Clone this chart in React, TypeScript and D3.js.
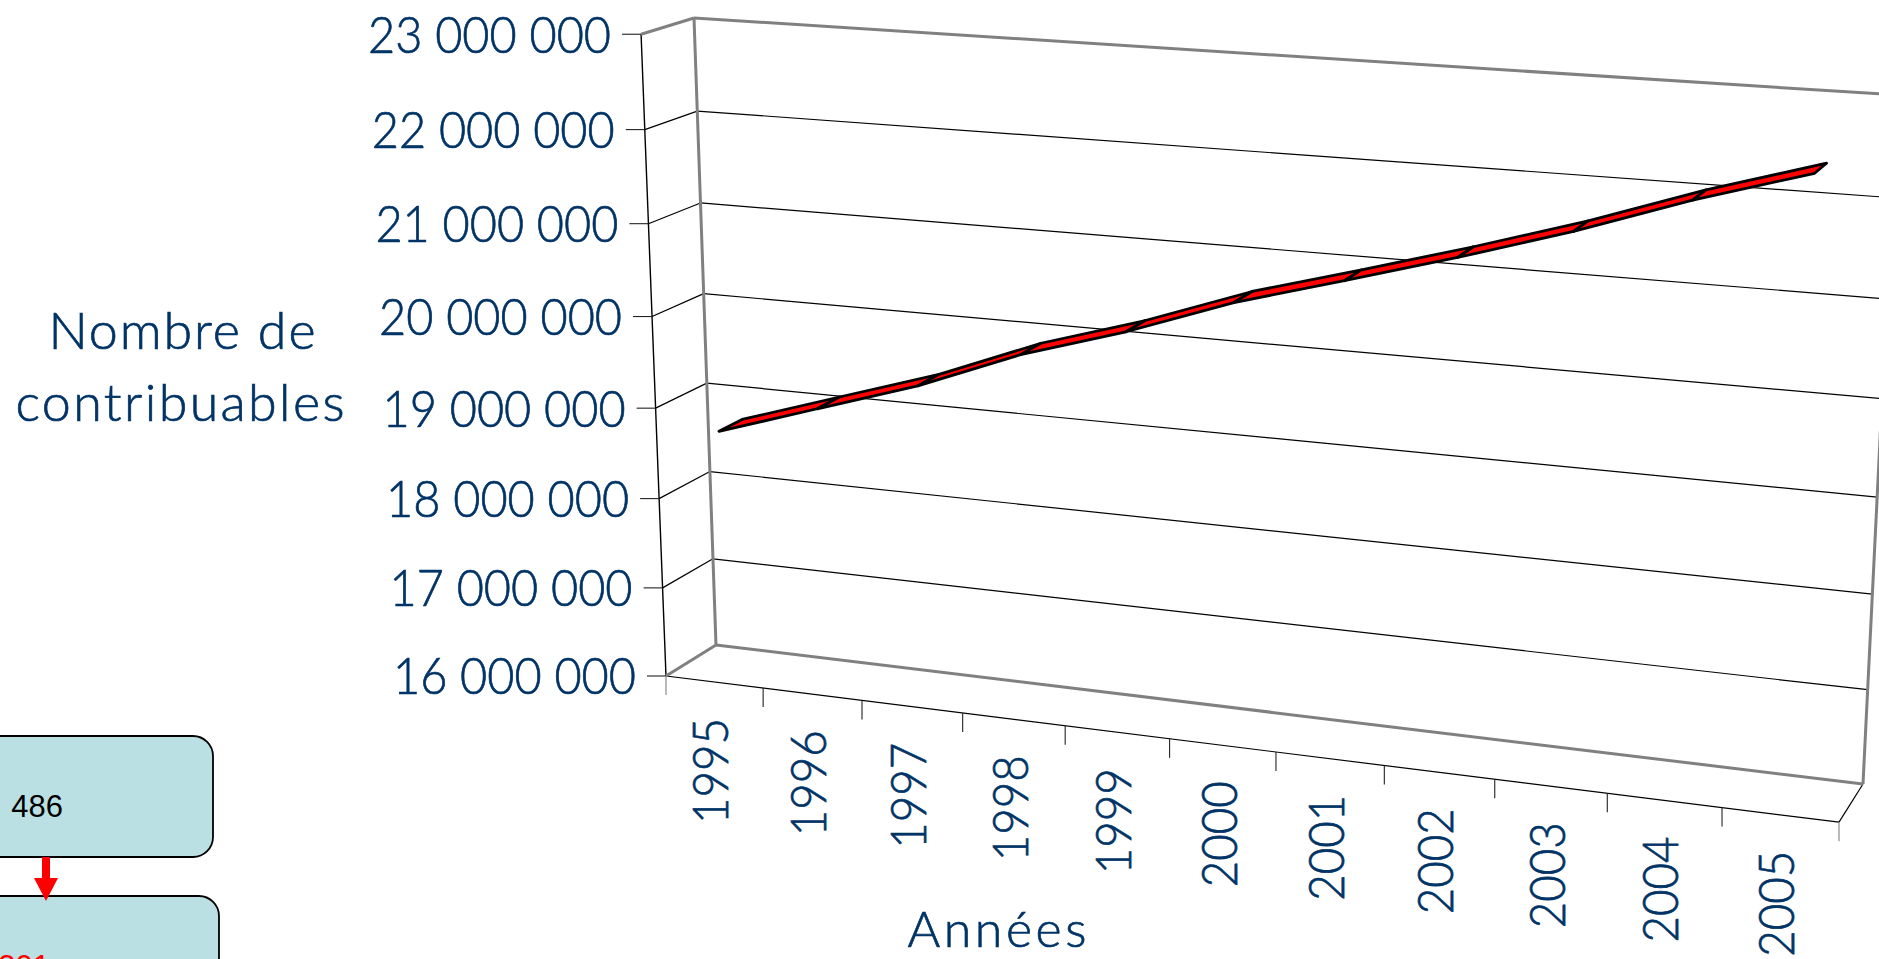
import React from 'react';
import * as d3 from 'd3';

const years = ['1995','1996','1997','1998','1999','2000','2001','2002','2003','2004','2005'];
const tickValues = [16e6,17e6,18e6,19e6,20e6,21e6,22e6,23e6];
const contribuables = [18.725e6,19.082e6,19.436e6,19.874e6,20.216e6,20.618e6,20.937e6,21.265e6,21.616e6,22.01e6,22.355e6];

type V3 = [number,number,number];
const BL:V3=[716,645,1], BR:V3=[1863,784,1], TL:V3=[694,18,1], TR:V3=[1897,95,1], FL:V3=[666,676,1], FR:V3=[1839,824,1];
const det=(a:V3,b:V3,c:V3)=>a[0]*(b[1]*c[2]-b[2]*c[1])-b[0]*(a[1]*c[2]-a[2]*c[1])+c[0]*(a[1]*b[2]-a[2]*b[1]);
const nTR:V3=[-TR[0],-TR[1],-1];
const D=det(BR,TL,nTR);
const s1=det(BL,TL,nTR)/D, s2=det(BR,BL,nTR)/D;
const dd=FL[0]*(-1)-(-FR[0])*1;
const r1=BL[0]-s1*BR[0], r2=1-s1;
const s3=(r1*(-1)-(-FR[0])*r2)/dd;
const sub=(a:V3,k:number):V3=>[a[0]*k-BL[0],a[1]*k-BL[1],a[2]*k-BL[2]];
const c1=sub(BR,s1), c2=sub(TL,s2), c3=sub(FL,s3);
const project=(u:number,v:number,w:number):[number,number]=>{
  const h=[0,1,2].map(i=>u*c1[i]+v*c2[i]+w*c3[i]+BL[i]);
  return [h[0]/h[2],h[1]/h[2]];
};

const vScale=d3.scaleLinear().domain([16e6,23e6]).range([0,1]);
const uBand=d3.scaleBand<string>().domain(years).range([0,1]);
const fmt=(n:number)=>String(n).replace(/\B(?=(\d{3})+$)/g,' ');
const line=d3.line();
const NAVY='#003366', GREY='#808080';
const WB=0.28, WF=0.74;
const txt={fontFamily:"Lato, sans-serif",fontWeight:300,fill:NAVY,stroke:NAVY,strokeWidth:0.7};
const seg=(p:[number,number][],stroke:string,sw:number,key:string)=>(
  <path key={key} d={line(p)!} fill="none" stroke={stroke} strokeWidth={sw}/>
);

export default function App(){
  const grid=tickValues.slice(1,-1);
  const n=years.length;
  const uTicks=d3.range(n+1).map(i=>i/n);
  return (
    <svg width={1879} height={959} style={{position:'fixed',left:0,top:0,background:'#fff'}}>
      <rect x={-100} y={736} width={313} height={121} rx={20} fill="#BAE0E3" stroke="#000" strokeWidth={1.8}/>
      <rect x={-100} y={896} width={319} height={160} rx={20} fill="#BAE0E3" stroke="#000" strokeWidth={1.8}/>
      <text x={63} y={817} textAnchor="end" fontFamily="'Liberation Sans'" fontSize={31}>486</text>
      <text x={50} y={977} textAnchor="end" fontFamily="'Liberation Sans'" fontSize={31} fill="#f00">301</text>
      <path d="M42,857V878H34L46,901L58,878H50V857Z" fill="#f00"/>

      {grid.map(t=>{const v=vScale(t);return <g key={t}>
        {seg([project(0,v,1),project(0,v,0)],'#000',1.2,'s')}
        {seg([project(0,v,0),project(1,v,0)],'#000',1.2,'b')}
      </g>})}
      {seg([project(1,0,1),project(1,0,0)],'#000',1.2,'floorR')}
      {seg([project(0,0,1),project(0,1,1)],'#000',1.4,'axisY')}
      {seg([project(0,0,1),project(1,0,1)],'#000',1.2,'axisX')}
      {seg([project(0,1,1),project(0,1,0)],GREY,3,'g1')}
      {seg([project(0,1,0),project(1,1,0)],GREY,3,'g2')}
      {seg([project(0,1,0),project(0,0,0)],GREY,3,'g3')}
      {seg([project(0,0,1),project(0,0,0)],GREY,3,'g4')}
      {seg([project(0,0,0),project(1,0,0)],GREY,3,'g5')}
      {seg([project(1,0,0),project(1,1,0)],GREY,3,'g6')}

      {tickValues.map(t=>{const [x,y]=project(0,vScale(t),1);return <g key={t}>
        <line x1={x-19} x2={x} y1={y} y2={y} stroke="#222" strokeWidth={1.1}/>
        <text {...txt} x={x-30} y={y} dy="0.36em" textAnchor="end" fontSize={51} textLength={243} lengthAdjust="spacingAndGlyphs">{fmt(t)}</text>
      </g>})}
      {uTicks.map((u,i)=>{const [x,y]=project(u,0,1);return <line key={i} x1={x} x2={x} y1={y} y2={y+19} stroke={i===0||i===n?GREY:'#222'} strokeWidth={1.1}/>})}
      {years.map(yr=>{const u=uBand(yr)!+uBand.bandwidth()/2;const [x,y]=project(u,0,1);return (
        <text {...txt} key={yr} transform={`translate(${x+14},${y+36}) rotate(-90)`} textAnchor="end" fontSize={49} textLength={106} lengthAdjust="spacingAndGlyphs">{yr}</text>
      )})}
      {contribuables.slice(1).map((val,i)=>{
        const u0=uBand(years[i])!+uBand.bandwidth()/2,u1=uBand(years[i+1])!+uBand.bandwidth()/2;
        const v0=vScale(contribuables[i]),v1=vScale(val);
        const p:[number,number][]=[project(u0,v0,WF),project(u1,v1,WF),project(u1,v1,WB),project(u0,v0,WB)];
        return <path key={i} d={line(p)!+'Z'} fill="#f00" stroke="#000" strokeWidth={2.8} strokeLinejoin="round"/>;
      })}
      <text {...txt} x={182} y={349} textAnchor="middle" fontSize={52} textLength={267} lengthAdjust="spacing">Nombre de</text>
      <text {...txt} x={180} y={421} textAnchor="middle" fontSize={52} textLength={329} lengthAdjust="spacing">contribuables</text>
      <text {...txt} x={997} y={947} textAnchor="middle" fontSize={50} textLength={179} lengthAdjust="spacing">Années</text>
    </svg>
  );
}
